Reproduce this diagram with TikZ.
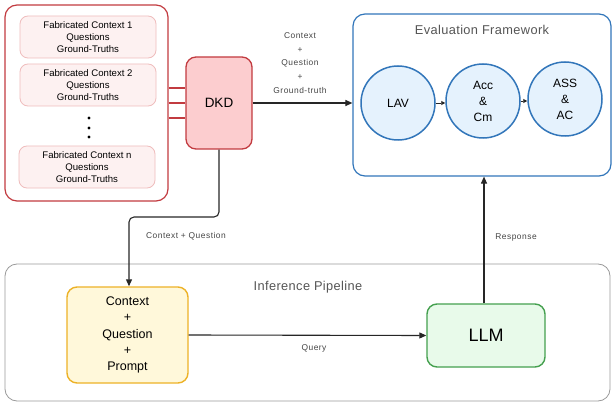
\documentclass[tikz,border=0pt]{standalone}
\usepackage{fontspec}
\setmainfont{Liberation Sans}
\newfontfamily\lblfont[LetterSpace=6]{Liberation Sans}
\newfontfamily\ttlfont[LetterSpace=3]{Liberation Sans}
\usetikzlibrary{arrows.meta,positioning}
\definecolor{redb}{HTML}{C23B40}
\definecolor{redf}{HTML}{FCCDCF}
\definecolor{pinkf}{HTML}{FDF1F1}
\definecolor{pinkb}{HTML}{EFBDBD}
\definecolor{blueb}{HTML}{3276BA}
\definecolor{bluef}{HTML}{E5F2FD}
\definecolor{yelf}{HTML}{FFF8DA}
\definecolor{yelb}{HTML}{EDB227}
\definecolor{grnf}{HTML}{E8FAEA}
\definecolor{grnb}{HTML}{45A04F}
\definecolor{grayb}{HTML}{9A9A9A}
\definecolor{titlec}{HTML}{555555}
\definecolor{lblc}{HTML}{444444}
\tikzset{
  container/.style={draw, rounded corners=12pt, line width=1.2pt, inner sep=0pt},
  fabbox/.style={draw=pinkb, fill=pinkf, rounded corners=8pt, line width=0.8pt,
    minimum width=136pt, minimum height=42pt, align=center, font=\fontsize{9.6}{12}\selectfont, inner sep=0pt},
  circ/.style={circle, draw=blueb, fill=bluef, line width=1.5pt, minimum size=74pt,
    align=center, font=\fontsize{12}{16}\selectfont, inner sep=0pt},
  conn/.style={draw=black!85, line width=1.1pt, -{Triangle[length=7pt,width=6pt]}},
  lbl/.style={font=\lblfont\fontsize{8.4}{9}\selectfont, text=lblc, inner sep=0pt},
  ttl/.style={font=\ttlfont\fontsize{12.8}{14}\selectfont, text=titlec, inner sep=0pt}
}
\begin{document}
\begin{tikzpicture}[x=1pt,y=-1pt]
\useasboundingbox (0,0) rectangle (615,406);
% outer red container
\node[container, draw=redb, fill=white, minimum width=163pt, minimum height=196pt] (cont) at (86.5,103) {};
\node[fabbox] (f1) at (88,37) {Fabricated Context 1\\Questions\\Ground-Truths};
\node[fabbox] (f2) at (88,85) {Fabricated Context 2\\Questions\\Ground-Truths};
\node[fabbox] (fn) at (87,167) {Fabricated Context n\\Questions\\Ground-Truths};
\fill (89,118) circle (1.7pt) (89,128) circle (1.7pt) (89,137) circle (1.7pt);
% DKD
\node[draw=redb, fill=redf, rounded corners=10pt, line width=1.3pt, minimum width=66pt, minimum height=92pt,
  font=\fontsize{13.5}{16}\selectfont] (dkd) at (219,103) {DKD};
\foreach \yy in {88,103,118}
  \draw[redb, line width=1.1pt] (cont.east |- 0,\yy) -- (dkd.west |- 0,\yy);
% Evaluation framework
\node[container, draw=blueb, fill=white, minimum width=258pt, minimum height=162pt, line width=1.2pt] (eval) at (482,95) {};
\node[ttl] (evt) at (482,30) {Evaluation Framework};
\node[circ] (lav) at (398,103) {LAV};
\node[circ] (acc) at (483,101) {Acc\\\&\\Cm};
\node[circ] (ass) at (565,99) {ASS\\\&\\AC};
\draw[black!85, line width=0.9pt, -{Triangle[length=4pt,width=4pt]}] (lav.east) -- (lav.east -| acc.west);
\draw[black!85, line width=0.9pt, -{Triangle[length=4pt,width=4pt]}] (acc.east |- 0,101) -- (ass.west |- 0,101);
% DKD -> eval
\draw[conn] (dkd.east) -- (dkd.east -| eval.west);
\node[lbl] (l1) at (300,36) {Context};
\node[lbl] (l2) at (300,50) {+};
\node[lbl] (l3) at (300,63) {Question};
\node[lbl] (l4) at (300,77) {+};
\node[lbl] (l5) at (300,90) {Ground-truth};
% Inference pipeline
\node[container, draw=grayb, fill=white, minimum width=605pt, minimum height=137pt, line width=0.8pt] (inf) at (307.5,332.5) {};
\node[ttl] (inft) at (308,287) {Inference Pipeline};
\node[draw=yelb, fill=yelf, rounded corners=10pt, line width=1.4pt, minimum width=121pt, minimum height=96pt,
  align=center, font=\fontsize{12.5}{16.3}\selectfont, inner sep=0pt] (ctx) at (127.5,335) {Context\\+\\Question\\+\\Prompt};
\node[draw=grnb, fill=grnf, rounded corners=10pt, line width=1.4pt, minimum width=118pt, minimum height=63pt,
  font=\fontsize{18}{20}\selectfont] (llm) at (486,335.5) {LLM};
% DKD -> context
\draw[conn, rounded corners=5pt] (dkd.south) -- (219,217) -- (129,217) -- (ctx.north -| 129,0);
\node[lbl] (l6) at (186,236) {Context + Question};
% query
\draw[conn] (ctx.east) -- (llm.west);
\node[lbl] (l7) at (314,348) {Query};
% response
\draw[conn] (llm.north -| 484,0) -- (eval.south -| 484,0);
\node[lbl] (l8) at (516,237) {Response};
\end{tikzpicture}
\end{document}
